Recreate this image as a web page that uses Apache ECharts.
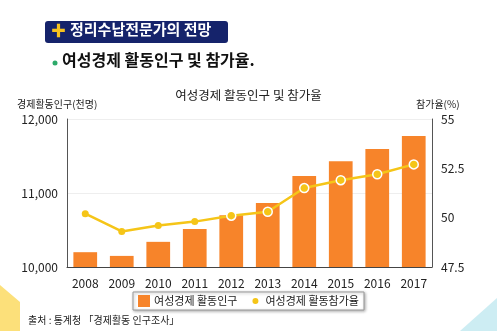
<!DOCTYPE html>
<html><head><meta charset="utf-8">
<script src="https://cdn.jsdelivr.net/npm/echarts@6/dist/echarts.min.js"></script>
<style>html,body{margin:0;padding:0;background:#fff}#c{width:497px;height:331px}</style>
</head><body><div id="c"></div>
<script>
const years = ['2008','2009','2010','2011','2012','2013','2014','2015','2016','2017'];
const population = [10200, 10150, 10340, 10515, 10700, 10865, 11230, 11430, 11595, 11770];
const rate = [50.2, 49.3, 49.6, 49.8, 50.1, 50.3, 51.5, 51.9, 52.2, 52.7];
const leftTicks = [10000, 11000, 12000];
const rightTicks = [47.5, 50, 52.5, 55];
const barName = '여성경제 활동인구';
const lineName = '여성경제 활동참가율';

const F = '"Noto Sans CJK KR", "Noto Sans", sans-serif';
const chart = echarts.init(document.getElementById('c'));
chart.setOption({
  animation: false,
  backgroundColor: '#fff',
  textStyle: { fontFamily: F },
  title: {
    text: '여성경제 활동인구 및 참가율', left: 'center', top: 84,
    textStyle: { fontSize: 12.5, fontWeight: 'normal', color: '#222', fontFamily: F }
  },
  grid: { left: 67, right: 65, top: 119, bottom: 64 },
  legend: {
    bottom: 21, left: 'center',
    data: [{ name: barName, icon: 'rect' },
           { name: lineName, icon: 'path://M0,0L0.01,0M0,12L0.01,12M12,0L12.01,0M12,12L12.01,12M6,3A3,3,0,1,0,6.001,3Z' }],
    itemWidth: 12, itemHeight: 12, itemGap: 12,
    padding: [3, 5], borderColor: '#999', borderWidth: 1,
    backgroundColor: '#fff', shadowColor: 'rgba(0,0,0,0.3)', shadowBlur: 3, shadowOffsetX: 1, shadowOffsetY: 1,
    textStyle: { fontSize: 11, color: '#222', fontFamily: F, padding: [0, 0, 0, -1] }
  },
  xAxis: {
    type: 'category', data: years,
    axisLine: { lineStyle: { color: '#444', width: 1 } },
    axisTick: { show: false },
    axisLabel: { fontSize: 12, color: '#222', margin: 10, fontFamily: F }
  },
  yAxis: [
    { type: 'value', min: leftTicks[0], max: leftTicks[leftTicks.length - 1], interval: 1000,
      name: '경제활동인구(천명)', nameLocation: 'end', nameGap: 10,
      nameTextStyle: { fontSize: 10, color: '#222', align: 'left', padding: [0, 0, 0, -50], fontFamily: F },
      axisLine: { show: true, lineStyle: { color: '#555' } }, axisTick: { show: false },
      axisLabel: { fontSize: 12, color: '#222', margin: 9, fontFamily: F, formatter: v => v.toLocaleString('en-US') },
      splitLine: { lineStyle: { color: '#eeeeee' } } },
    { type: 'value', min: rightTicks[0], max: rightTicks[rightTicks.length - 1], interval: 2.5,
      name: '참가율(%)', nameLocation: 'end', nameGap: 10,
      nameTextStyle: { fontSize: 10, color: '#222', align: 'left', padding: [0, 0, 0, -16], fontFamily: F },
      axisLine: { show: true, lineStyle: { color: '#555' } }, axisTick: { show: false },
      axisLabel: { fontSize: 12, color: '#222', margin: 9, fontFamily: F },
      splitLine: { show: false } }
  ],
  series: [
    { name: barName, type: 'bar', data: population, barWidth: '65%', yAxisIndex: 0,
      itemStyle: { color: '#F7842A' } },
    { name: lineName, type: 'line', data: rate.map((v, i) => i < 4 ? v : { value: v, symbolSize: 9, itemStyle: { borderColor: '#fff', borderWidth: 1.5 } }),
      yAxisIndex: 1, symbol: 'circle', symbolSize: 7,
      lineStyle: { color: '#F5C518', width: 2.5 }, itemStyle: { color: '#F5C518' } }
  ],
  graphic: [
    { type: 'polygon', shape: { points: [[0,285],[20,302],[20,331],[0,331]] }, style: { fill: '#FCE07A' }, z: -1 },
    { type: 'polygon', shape: { points: [[497,298],[497,331],[460,331]] }, style: { fill: '#CDEDF3' }, z: -1 },
    { type: 'rect', shape: { x: 45, y: 21, width: 183, height: 22, r: 3 }, style: { fill: '#15236B' } },
    { type: 'text', left: 51, top: 23, style: { text: '✚', fill: '#F7C21E', font: 'bold 15px ' + F } },
    { type: 'text', left: 70, top: 22, style: { text: '정리수납전문가의 전망', fill: '#fff', font: 'bold 15px ' + F } },
    { type: 'circle', shape: { cx: 55, cy: 63, r: 2.5 }, style: { fill: '#2DAA6A' } },
    { type: 'text', left: 62, top: 52, style: { text: '여성경제 활동인구 및 참가율.', fill: '#111', font: 'bold 16px ' + F } },
    { type: 'text', left: 28, top: 315, style: { text: '출처 : 통계청 「경제활동 인구조사」', fill: '#222', font: '10px ' + F } }
  ]
});
</script></body></html>
